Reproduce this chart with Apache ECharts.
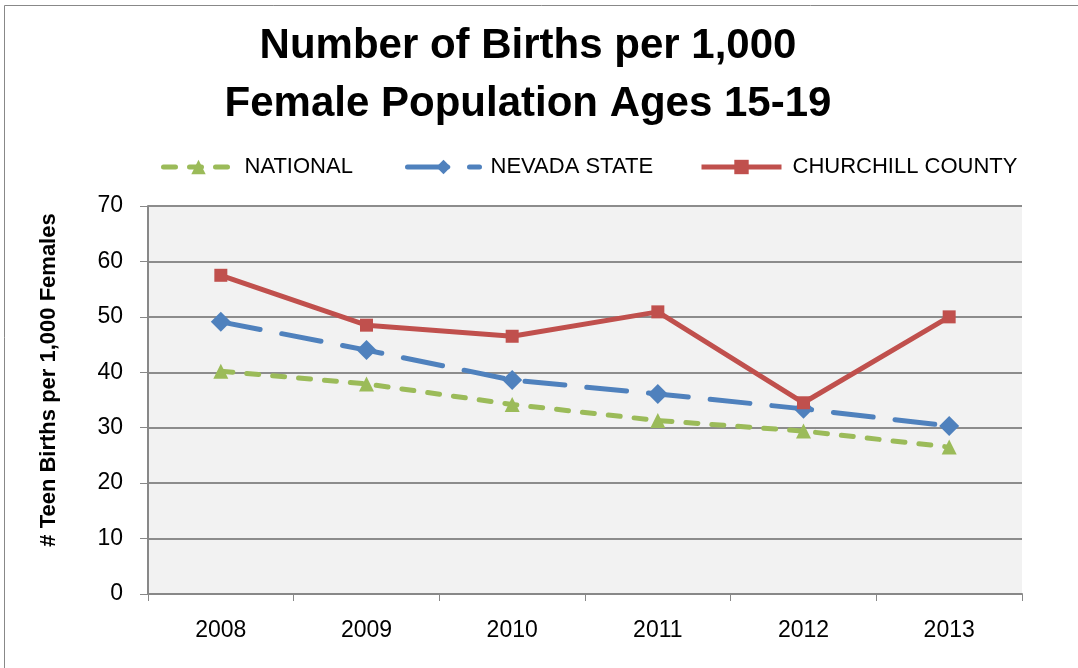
<!DOCTYPE html>
<html>
<head>
<meta charset="utf-8">
<script src="https://cdn.jsdelivr.net/npm/echarts@6/dist/echarts.min.js"></script>
<style>
html,body{margin:0;padding:0;background:#fff;}
#chart{width:1078px;height:668px;}
</style>
</head>
<body>
<div id="chart"></div>
<script>
const titleLines = ['Number of Births per 1,000', 'Female Population Ages 15-19'];
const yAxisName = '# Teen Births per 1,000 Females';
const categories = ['2008', '2009', '2010', '2011', '2012', '2013'];
const seriesNames = ['NATIONAL', 'NEVADA STATE', 'CHURCHILL COUNTY'];
const nationalValues = [40.2, 37.9, 34.2, 31.3, 29.4, 26.5];
const nevadaValues = [49.1, 44.0, 38.6, 36.1, 33.4, 30.3];
const churchillValues = [57.5, 48.5, 46.5, 50.9, 34.5, 50.0];
const yTicks = [0, 10, 20, 30, 40, 50, 60, 70];

const FONT = '"Liberation Sans", Arial, sans-serif';
const chart = echarts.init(document.getElementById('chart'), null, {renderer: 'canvas'});

function legendAt(name, left, iconW, lineType) {
  return {
    data: [name],
    left: left,
    top: 151,
    itemWidth: iconW,
    itemHeight: 18,
    lineStyle: {width: 5, type: lineType},
    textStyle: {fontFamily: FONT, fontSize: 22, color: '#000', padding: [0, 0, 0, 6]}
  };
}

chart.setOption({
  backgroundColor: '#fff',
  animation: false,
  title: {
    text: titleLines.join('\n'),
    left: 523,
    textAlign: 'center',
    top: 12,
    textStyle: {fontFamily: FONT, fontWeight: 'bold', fontSize: 42, lineHeight: 58, color: '#000'}
  },
  graphic: [{
    type: 'rect',
    shape: {x: 4.5, y: 5.5, width: 1090, height: 700},
    style: {fill: 'none', stroke: '#888', lineWidth: 1},
    silent: true
  }],
  legend: [
    legendAt(seriesNames[0], 156, 70, [12, 14]),
    legendAt(seriesNames[1], 400, 72, [40, 22]),
    legendAt(seriesNames[2], 694, 80, 'solid')
  ],
  grid: {
    left: 148, right: 56, top: 206, bottom: 74,
    show: true, backgroundColor: '#f2f2f2', borderWidth: 0
  },
  xAxis: {
    type: 'category',
    data: categories,
    boundaryGap: true,
    axisLine: {lineStyle: {color: '#888', width: 2}},
    axisTick: {show: true, length: 7, lineStyle: {color: '#888', width: 1}},
    axisLabel: {fontFamily: FONT, fontSize: 23, color: '#000', margin: 25}
  },
  yAxis: {
    type: 'value',
    min: yTicks[0], max: yTicks[yTicks.length - 1], interval: 10,
    name: yAxisName,
    nameLocation: 'middle',
    nameGap: 88,
    nameRotate: 90,
    nameTextStyle: {fontFamily: FONT, fontWeight: 'bold', fontSize: 22, color: '#000', padding: [0, 0, 0, 40]},
    axisLine: {show: true, lineStyle: {color: '#888', width: 2}},
    axisTick: {show: true, length: 8, inside: false, lineStyle: {color: '#888', width: 1}},
    splitLine: {lineStyle: {color: '#8c8c8c', width: 2}},
    axisLabel: {fontFamily: FONT, fontSize: 23, color: '#000', margin: 25}
  },
  series: [
    {
      name: seriesNames[0], type: 'line', data: nationalValues,
      symbol: 'triangle', symbolSize: 15,
      lineStyle: {color: '#9bbb59', width: 5, type: [12, 14], cap: 'round'},
      itemStyle: {color: '#9bbb59'}, z: 2
    },
    {
      name: seriesNames[1], type: 'line', data: nevadaValues,
      symbol: 'diamond', symbolSize: 20,
      lineStyle: {color: '#4f81bd', width: 5, type: [40, 22], cap: 'round'},
      itemStyle: {color: '#4f81bd'}, z: 3
    },
    {
      name: seriesNames[2], type: 'line', data: churchillValues,
      symbol: 'rect', symbolSize: 13,
      lineStyle: {color: '#c0504d', width: 5},
      itemStyle: {color: '#c0504d'}, z: 4
    }
  ]
});
</script>
</body>
</html>
